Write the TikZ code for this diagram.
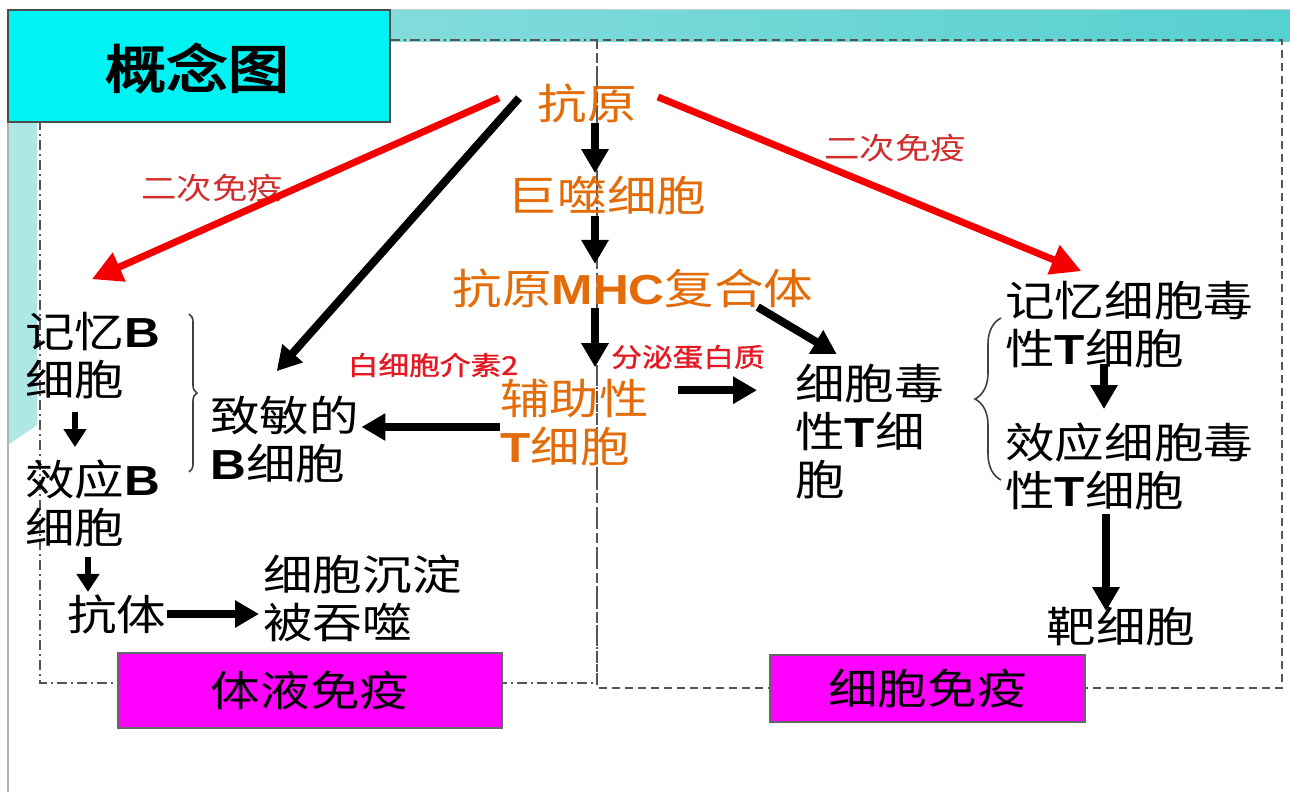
\documentclass[tikz,border=0pt]{standalone}
\usepackage{fontspec}
\usetikzlibrary{arrows.meta,decorations.pathreplacing,calc}
\newfontfamily\cjk{Noto Sans CJK SC}[FakeStretch=1.18]
\newfontfamily\cjkb{Noto Sans CJK SC}[FakeStretch=1.18,FakeBold=3.5]
\newfontfamily\cjkr{Noto Sans CJK SC}[FakeStretch=1.18,FakeBold=1.2]
\newfontfamily\lat{Liberation Sans}[FakeStretch=1.18]
\newcommand\LB[1]{{\lat\bfseries #1}}
\definecolor{orng}{RGB}{227,108,9}
\definecolor{redl}{RGB}{210,45,45}
\definecolor{redb}{RGB}{228,25,35}
\definecolor{arrred}{RGB}{245,0,0}
\definecolor{tealA}{RGB}{86,208,208}
\definecolor{tealB}{RGB}{150,224,224}
\definecolor{tealC}{RGB}{175,230,230}
\definecolor{cyanb}{RGB}{0,243,243}
\definecolor{mag}{RGB}{255,0,255}
\definecolor{dashc}{RGB}{85,85,85}
\tikzset{
  btxt/.style={inner sep=0pt, align=left, text=black, font=\cjk\fontsize{21pt}{24pt}\selectfont},
  otxt/.style={inner sep=0pt, align=left, text=orng, font=\cjk\fontsize{21pt}{24pt}\selectfont},
  rtxt/.style={inner sep=0pt, text=redl, font=\cjk\fontsize{15pt}{17pt}\selectfont},
  rstxt/.style={inner sep=0pt, text=redb, font=\cjkr\fontsize{13pt}{15pt}\selectfont},
  barrow/.style={draw=black, line width=4pt, -{Triangle[length=12pt,width=13pt]}},
  sarrow/.style={draw=black, line width=3pt, -{Triangle[length=9pt,width=11pt]}},
  rarrow/.style={draw=arrred, line width=3.5pt, -{Triangle[length=15pt,width=15pt]}},
  magbox/.style={draw=black!60, line width=0.6pt, fill=mag, inner sep=0pt, text=black, font=\cjk\fontsize{21pt}{24pt}\selectfont},
  bracestyle/.style={draw=black!75, line width=0.8pt, decorate},
}
\begin{document}
\begin{tikzpicture}[x=0.5pt,y=-0.5pt]
\useasboundingbox (0,0) rectangle (1290,792);
\fill[white] (0,0) rectangle (1290,792);
% background decoration
\shade[left color=tealB, right color=tealA] (8,10) rectangle (1290,42);
\fill[tealC] (8,42) -- (37,42) -- (37,425) -- (8,445) -- cycle;
\draw[black!30, line width=0.6pt] (8,10) -- (8,792);
\draw[black!20, line width=0.5pt] (8,10) -- (1290,10);
% dashed regions
\draw[dashc, line width=0.8pt, dash pattern=on 5pt off 2pt on 1pt off 2pt] (40,40) rectangle (597,683);
\draw[dashc, line width=0.8pt, dash pattern=on 4pt off 2.5pt] (597,40) rectangle (1282,688);
% title
\node[draw=black!70, line width=1pt, fill=cyanb, minimum width=191pt, minimum height=56pt, inner sep=0pt] (title) at (199,66) {};
\node[inner sep=0pt, font=\cjkb\fontsize{26pt}{28pt}\selectfont] (titletext) at (197,68) {概念图};
% category boxes
\node[magbox, minimum width=192pt, minimum height=37.5pt] (humoral) at (310,690.5) {体液免疫};
\node[magbox, minimum width=157.5pt, minimum height=33.5pt] (cellular) at (927.5,688.5) {细胞免疫};
% labels
\node[rtxt] (l1) at (212,188) {二次免疫};
\node[rtxt] (l2) at (895,148) {二次免疫};
\node[rstxt] (l3) at (433,365) {白细胞介素2};
\node[rstxt] (l4) at (688,357) {分泌蛋白质};
% orange nodes
\node[otxt] (ky) at (587,103) {抗原};
\node[otxt] (jsc) at (607,196) {巨噬细胞};
\node[otxt] (mhc) at (633,288) {抗原\LB{MHC}复合体};
\node[otxt, anchor=west] (fz) at (500,423) {辅助性\\\LB{T}细胞};
% black nodes
\node[btxt, anchor=west] (jyB) at (25,356) {记忆\LB{B}\\细胞};
\node[btxt, anchor=west] (xyB) at (25,503) {效应\LB{B}\\细胞};
\node[btxt] (kt) at (117,614) {抗体};
\node[btxt, anchor=west] (cd) at (263,598) {细胞沉淀\\被吞噬};
\node[btxt, anchor=west] (zm) at (210,440) {致敏的\\\LB{B}细胞};
\node[btxt, anchor=west] (xbd) at (795,432) {细胞毒\\性\LB{T}细\\胞};
\node[btxt, anchor=west] (jyT) at (1005,325) {记忆细胞毒\\性\LB{T}细胞};
\node[btxt, anchor=west] (xyT) at (1005,466) {效应细胞毒\\性\LB{T}细胞};
\node[btxt] (bx) at (1121,627) {靶细胞};
\coordinate (ax) at (595,0);
\coordinate (cT) at (1104,0);
\coordinate (fzx) at ($(fz.north east)+(29,11)$);
% braces
\draw[bracestyle, decoration={brace, amplitude=4pt, aspect=0.5}] (189,314) -- (189,472);
\draw[bracestyle, decoration={brace, amplitude=13pt, aspect=0.5}] (1001,480) -- (1001,318);
% arrows
\draw[rarrow] ($(ky.west)+(-38,-5)$) -- ($(jyB.north)+(-1,-33)$);
\draw[rarrow] ($(ky.east)+(21,-6)$) -- ($(jyT.north)+(-48,-10)$);
\draw[barrow] ($(ky.west)+(-18,-5)$) -- ($(zm.north)+(-8,-25)$);
\draw[barrow, shorten >=1.5pt] (ky.south -| ax) -- (jsc.north -| ax);
\draw[barrow, shorten >=2pt] (jsc.south -| ax) -- (mhc.north -| ax);
\draw[barrow, shorten >=6pt] (mhc.south -| ax) -- (fz.north -| ax);
\draw[barrow] ($(mhc.south east)+(-56,-1)$) -- ($(xbd.north)+(-33,-10)$);
\draw[barrow] ($(fz.west)+(0,4)$) -- ($(fz.west -| zm.east)+(2,4)$);
\draw[barrow, shorten >=19pt] (fzx) -- (fzx -| xbd.west);
\draw[sarrow] ($(jyB.south west)+(50,12)$) -- ($(xyB.north west)+(50,-12)$);
\draw[sarrow] ($(xyB.south west)+(63,10)$) -- ($(kt.north)+(-29,-2)$);
\draw[barrow] (kt.east) -- ($(kt.east -| cd.west)+(-4,0)$);
\draw[barrow] ($(jyT.south -| cT)+(0,-5)$) -- ($(xyT.north -| cT)+(0,-13)$);
\draw[barrow] ($(xyT.south -| cT)+(2,4)$) -- ($(bx.north -| cT)+(2,4)$);
\end{tikzpicture}
\end{document}
